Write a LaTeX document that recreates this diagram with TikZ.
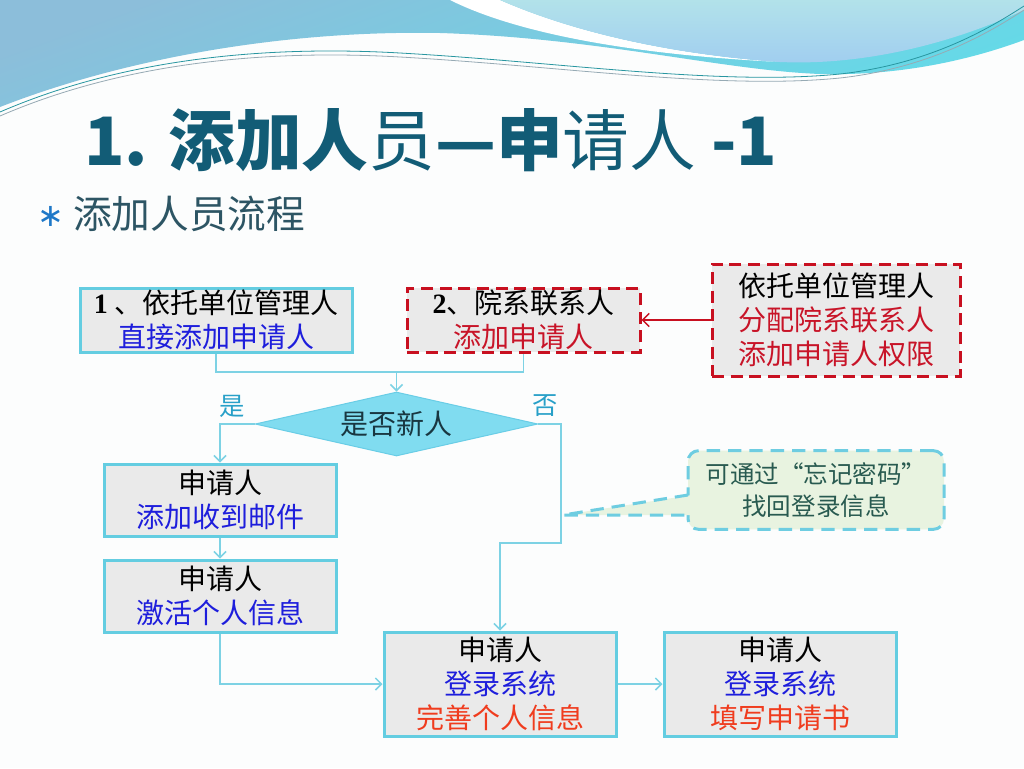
\documentclass[tikz,border=0pt]{standalone}
\usepackage{fontspec}
\usetikzlibrary{shapes.geometric,arrows.meta,calc}
\newfontfamily\cjk{Noto Sans CJK SC}
\newfontfamily\sernum{Liberation Serif}
\newfontfamily\djv{DejaVu Sans}
\newcommand\bxf{\cjk\fontsize{21}{25.5}\selectfont}
\definecolor{bgc}{RGB}{252,253,253}
\definecolor{boxc}{RGB}{100,205,225}
\definecolor{connc}{RGB}{125,210,228}
\definecolor{fillc}{RGB}{234,234,234}
\definecolor{redc}{RGB}{200,16,32}
\definecolor{bluet}{RGB}{30,30,220}
\definecolor{redt}{RGB}{200,20,40}
\definecolor{oranget}{RGB}{240,60,30}
\definecolor{diafill}{RGB}{128,220,240}
\definecolor{diac}{RGB}{105,205,230}
\definecolor{diatext}{RGB}{25,55,65}
\definecolor{titlec}{RGB}{18,92,118}
\definecolor{subc}{RGB}{45,85,100}
\definecolor{bulletc}{RGB}{30,120,200}
\definecolor{lblc}{RGB}{40,160,200}
\definecolor{callfill}{RGB}{232,243,224}
\definecolor{callc}{RGB}{110,205,225}
\definecolor{calltext}{RGB}{40,90,80}
\definecolor{wavea}{RGB}{140,190,218}
\definecolor{waveb}{RGB}{100,218,232}
\definecolor{lighta}{RGB}{178,226,234}
\definecolor{lightb}{RGB}{160,205,240}
\begin{document}
\begin{tikzpicture}[x=0.75pt,y=-0.75pt,
  box/.style={draw=boxc, line width=2.25pt, fill=fillc, inner sep=0pt, align=center, font=\bxf},
  redbox/.style={box, draw=redc, dash pattern=on 9pt off 5pt},
  conn/.style={draw=connc, line width=1.1pt},
  arr/.style={-{Straight Barb[length=4.5pt,width=9pt]}},
  lbl/.style={text=lblc, font=\cjk\fontsize{19}{20}\selectfont, inner sep=0pt},
  calldash/.style={draw=callc, line width=2.25pt, dash pattern=on 10pt off 6pt}]
\useasboundingbox (0,0) rectangle (1024,768);
\fill[bgc] (0,0) rectangle (1024,768);
% top wave decoration
\shade[shading=axis, top color=wavea, bottom color=waveb, shading angle=20]
  (0,0) -- (1024,0) -- (1024,40) .. controls (970,60) and (900,76) .. (820,74)
  .. controls (720,70) and (600,38) .. (440,33) .. controls (280,30) and (120,60) .. (0,107) -- cycle;
\fill[white] (450,0) .. controls (520,35) and (640,55) .. (780,62)
  .. controls (680,55) and (580,35) .. (500,0) -- cycle;
\shade[top color=lighta, bottom color=lightb]
  (500,0) .. controls (580,35) and (680,55) .. (780,62) .. controls (870,66) and (960,40) .. (1024,10) -- (1024,0) -- cycle;
\draw[color={rgb,255:red,40;green,150;blue,160}, line width=0.6pt]
  (0,112) .. controls (120,60) and (260,45) .. (400,53) .. controls (560,62) and (720,86) .. (840,74) .. controls (930,64) and (990,28) .. (1024,6);
\draw[color={rgb,255:red,150;green,170;blue,180}, line width=0.6pt]
  (0,116) .. controls (120,64) and (260,49) .. (400,57) .. controls (560,66) and (720,90) .. (840,78) .. controls (930,68) and (990,32) .. (1024,10);
% title
\node[anchor=base west, inner sep=0pt, text=titlec, font=\cjk\fontsize{50}{52}\selectfont] (title) at (84,165) {{\bfseries 1. 添加人}员{\bfseries —申}请人 {\bfseries -1}};
\node[anchor=base, text=bulletc, inner sep=0pt, font=\djv\fontsize{24}{26}\selectfont] (bul) at (51,226) {∗};
\node[anchor=base west, inner sep=0pt, text=subc, font=\cjk\fontsize{29}{30}\selectfont] (sub) at (73,228) {添加人员流程};
% boxes
\node[box, minimum width=204pt, minimum height=48pt] (b1) at (216,320)
  {{\sernum\bfseries 1} 、依托单位管理人\\\textcolor{bluet}{直接添加申请人}};
\node[redbox, minimum width=174.75pt, minimum height=48pt] (b2) at (523.5,320)
  {{\sernum\bfseries 2}、院系联系人\\\textcolor{redt}{添加申请人}};
\node[redbox, minimum width=186pt, minimum height=84pt] (b3) at (836,320)
  {依托单位管理人\\\textcolor{redt}{分配院系联系人}\\\textcolor{redt}{添加申请人权限}};
\node[diamond, aspect=4.4, draw=diac, fill=diafill, line width=0.75pt, minimum width=212pt, minimum height=48pt, inner sep=0pt, font=\bxf, text=diatext] (d) at (396.5,424) {是否新人};
\node[box, minimum width=174pt, minimum height=54pt] (b4) at (220,500)
  {申请人\\\textcolor{bluet}{添加收到邮件}};
\node[box, minimum width=174pt, minimum height=54pt] (b5) at (220,596)
  {申请人\\\textcolor{bluet}{激活个人信息}};
\node[box, minimum width=174pt, minimum height=78pt] (b6) at (500,684)
  {申请人\\\textcolor{bluet}{登录系统}\\\textcolor{oranget}{完善个人信息}};
\node[box, minimum width=174pt, minimum height=78pt] (b7) at (780,684)
  {申请人\\\textcolor{bluet}{登录系统}\\\textcolor{oranget}{填写申请书}};
\node[lbl] (yes) at (232,406) {是};
\node[lbl] (no) at (545,406) {否};
% callout
\node[calldash, fill=callfill, rounded corners=8pt, minimum width=192pt, minimum height=59pt, align=center, inner sep=0pt, text=calltext, font=\cjk\fontsize{18.4}{24}\selectfont] (co) at (816,490) {可通过“忘记密码”\\找回登录信息};
\coordinate (tip) at (563,515);
\coordinate (pa) at (688,495);
\coordinate (pb) at (688,515);
\fill[callfill] ($(pa)+(4,0)$) -- (tip) -- ($(pb)+(4,0)$) -- cycle;
\draw[calldash] (pa) -- (tip) -- (pb);
% connectors
\coordinate (m) at (396.5,372);
\coordinate (nb) at (561,543);
\draw[conn] (b1.south) |- (m) -| (b2.south);
\draw[conn, arr] (m) -- (d.north);
\draw[conn, arr] (d.west) -| (b4.north);
\draw[conn, arr] (d.east) -| (nb) -| (b6.north);
\draw[conn, arr] (b4) -- (b5);
\draw[conn, arr] (b5.south) |- (b6.west);
\draw[conn, arr] (b6) -- (b7);
\draw[draw=redc, line width=1.1pt, -{Straight Barb[length=5pt,width=10pt]}] (b3) -- (b2);
\end{tikzpicture}
\end{document}
